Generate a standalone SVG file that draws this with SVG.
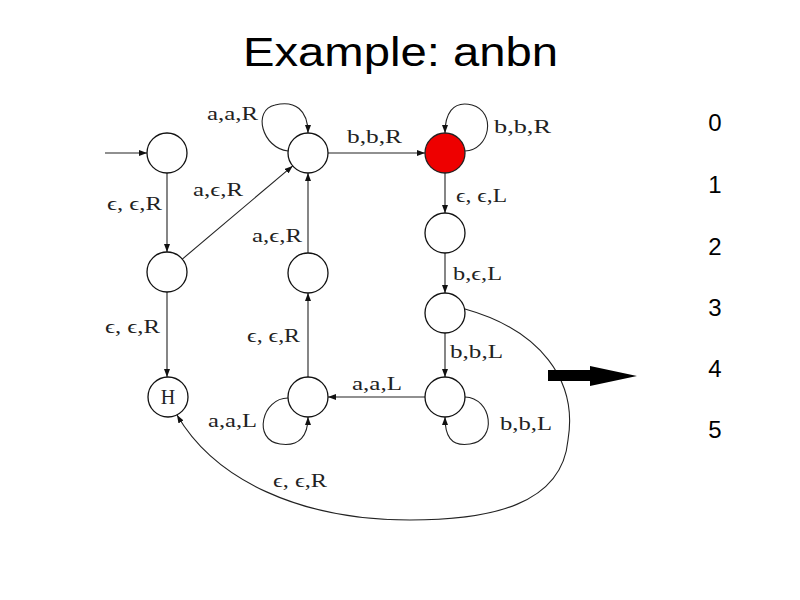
<svg xmlns="http://www.w3.org/2000/svg" width="800" height="600" viewBox="0 0 800 600">
<style>
.st{fill:#fff;stroke:#111;stroke-width:1.3}
.acc{fill:#e00;stroke:#222;stroke-width:1.3}
.e{fill:none;stroke:#222;stroke-width:1.1}
.lb{font-family:"Liberation Serif","DejaVu Serif",serif;font-size:18px;fill:#222}
.title{font-family:"Liberation Sans",Arial,sans-serif;font-size:40px;fill:#000}
.num{font-family:"Liberation Sans",Arial,sans-serif;font-size:24px;fill:#000;text-anchor:middle}
</style>
<defs>
<marker id="ah" markerWidth="8" markerHeight="6" refX="8" refY="3" orient="auto" markerUnits="userSpaceOnUse">
<path d="M0,0 L8,3 L0,6 z" fill="#111"/>
</marker>
</defs>
<rect width="800" height="600" fill="#fff"/>
<text class="title" x="243" y="66" textLength="315" lengthAdjust="spacingAndGlyphs">Example: anbn</text>

<g id="connectors">
<path class="e" d="M105,153 L147,153" marker-end="url(#ah)"/>
<path class="e" d="M167,173 L167,252" marker-end="url(#ah)"/>
<path class="e" d="M167,292 L167,377" marker-end="url(#ah)"/>
<path class="e" d="M182.3,259.1 L292.7,165.9" marker-end="url(#ah)"/>
<path class="e" d="M288,151 C262,148 252,110 275,105 C295,100 308,110 308,133" marker-end="url(#ah)"/>
<path class="e" d="M308,253 L308,173" marker-end="url(#ah)"/>
<path class="e" d="M308,377 L308,293" marker-end="url(#ah)"/>
<path class="e" d="M288,398 C262,398 252,440 280,444 C300,447 308,435 308,417" marker-end="url(#ah)"/>
<path class="e" d="M328,153 L425,153" marker-end="url(#ah)"/>
<path class="e" d="M465,151 C490,150 497,112 472,105 C452,100 445,115 445,133" marker-end="url(#ah)"/>
<path class="e" d="M445,173 L445,213" marker-end="url(#ah)"/>
<path class="e" d="M445,253 L445,293" marker-end="url(#ah)"/>
<path class="e" d="M445,333 L445,377" marker-end="url(#ah)"/>
<path class="e" d="M465,397 C492,398 498,440 470,444 C450,447 445,435 445,417" marker-end="url(#ah)"/>
<path class="e" d="M425,397 L328,397" marker-end="url(#ah)"/>
<path class="e" d="M465,309 C540,330 578,380 568,440 C562,505 490,520 410,520 C300,520 215,480 177,415" marker-end="url(#ah)"/>

<text class="lb" x="107" y="210" textLength="55" lengthAdjust="spacingAndGlyphs">ϵ, ϵ,R</text>
<text class="lb" x="105" y="333" textLength="55" lengthAdjust="spacingAndGlyphs">ϵ, ϵ,R</text>
<text class="lb" x="193" y="196" textLength="50" lengthAdjust="spacingAndGlyphs">a,ϵ,R</text>
<text class="lb" x="207" y="120" textLength="51" lengthAdjust="spacingAndGlyphs">a,a,R</text>
<text class="lb" x="252" y="242" textLength="50" lengthAdjust="spacingAndGlyphs">a,ϵ,R</text>
<text class="lb" x="247" y="342" textLength="53" lengthAdjust="spacingAndGlyphs">ϵ, ϵ,R</text>
<text class="lb" x="208" y="427" textLength="49" lengthAdjust="spacingAndGlyphs">a,a,L</text>
<text class="lb" x="347" y="143" textLength="55" lengthAdjust="spacingAndGlyphs">b,b,R</text>
<text class="lb" x="494" y="133" textLength="57" lengthAdjust="spacingAndGlyphs">b,b,R</text>
<text class="lb" x="456" y="202" textLength="51" lengthAdjust="spacingAndGlyphs">ϵ, ϵ,L</text>
<text class="lb" x="453" y="280" textLength="49" lengthAdjust="spacingAndGlyphs">b,ϵ,L</text>
<text class="lb" x="450" y="358" textLength="53" lengthAdjust="spacingAndGlyphs">b,b,L</text>
<text class="lb" x="352" y="390" textLength="50" lengthAdjust="spacingAndGlyphs">a,a,L</text>
<text class="lb" x="500" y="430" textLength="52" lengthAdjust="spacingAndGlyphs">b,b,L</text>
<text class="lb" x="273" y="487" textLength="54" lengthAdjust="spacingAndGlyphs">ϵ, ϵ,R</text>
</g>

<g id="q0"><circle class="st" cx="167" cy="153" r="20"/></g>
<g id="q1"><circle class="st" cx="167" cy="272" r="20"/></g>
<g id="H"><circle class="st" cx="168" cy="397" r="20"/><text class="lb" x="168" y="404" text-anchor="middle" style="font-size:20px">H</text></g>
<g id="q2"><circle class="st" cx="308" cy="153" r="20"/></g>
<g id="q3"><circle class="st" cx="308" cy="273" r="20"/></g>
<g id="q4"><circle class="st" cx="308" cy="397" r="20"/></g>
<g id="q5"><circle class="acc" cx="445" cy="153" r="20"/></g>
<g id="q6"><circle class="st" cx="445" cy="233" r="20"/></g>
<g id="q7"><circle class="st" cx="445" cy="313" r="20"/></g>
<g id="q8"><circle class="st" cx="445" cy="397" r="20"/></g>

<g id="pointer"><polygon points="548,370 590,370 590,366 637,376 590,386 590,381 548,381" fill="#000"/></g>

<g id="steps">
<text class="num" x="715" y="131">0</text>
<text class="num" x="715" y="193">1</text>
<text class="num" x="715" y="255">2</text>
<text class="num" x="715" y="316">3</text>
<text class="num" x="715" y="377">4</text>
<text class="num" x="715" y="438">5</text>
</g>
</svg>
